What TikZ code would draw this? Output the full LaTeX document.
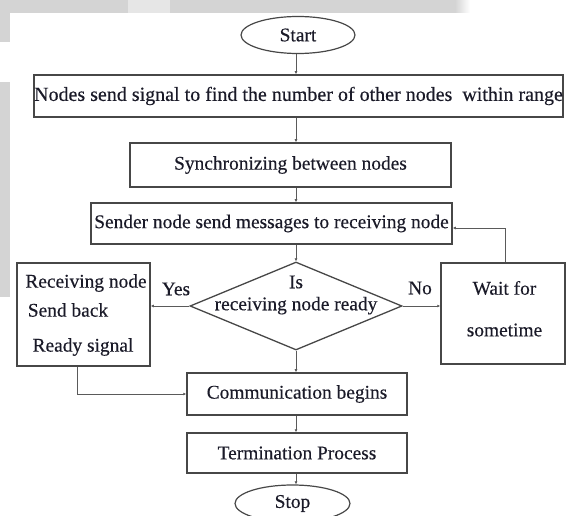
\documentclass[tikz,border=0pt]{standalone}
\usepackage{fontspec}
\setmainfont[FakeBold=0.3]{Liberation Serif}
\usetikzlibrary{shapes.geometric,arrows.meta}
\definecolor{boxc}{HTML}{474747}
\definecolor{linec}{HTML}{5A5A5A}
\definecolor{txt}{HTML}{1A1A28}
\definecolor{bg}{HTML}{D4D4D4}
\definecolor{bgl}{HTML}{E6E6E6}
\begin{document}
\begin{tikzpicture}[x=1pt,y=-1pt,
  every node/.style={font=\fontsize{19.4}{22}\selectfont, text=txt},
  box/.style={draw=boxc, line width=1.5pt, inner sep=0pt, rectangle},
  oval/.style={draw=boxc, line width=1.2pt, ellipse, inner sep=0pt, minimum width=114pt, minimum height=37pt},
  conn/.style={draw=linec, line width=0.9pt, -{Latex[length=3pt,width=3pt]}},
  lbl/.style={inner sep=0pt}]
\useasboundingbox (0,0) rectangle (566,516);
\fill[white] (0,0) rectangle (566,516);
% background remnants
\fill[bg] (0,0) rectangle (128,12.7);
\fill[bgl] (128,0) rectangle (170,12.7);
\fill[bg] (170,0) rectangle (455,12.7);
\shade[left color=bg, right color=white] (455,0) rectangle (470,12.7);
\fill[bg] (0,12.7) rectangle (10,42);
\fill[bg] (0,82) rectangle (10,297);

% nodes
\node[oval] (start) at (298,35) {Start};
\node[box, minimum width=525pt, minimum height=42pt, font=\fontsize{20}{22}\selectfont] (find) at (298.5,96) {Nodes send signal to find the number of other nodes\ \ within range};
\node[box, minimum width=321pt, minimum height=44pt] (sync) at (290.5,165) {Synchronizing between nodes};
\node[box, minimum width=361pt, minimum height=41pt] (send) at (271.5,223.5) {Sender node send messages to receiving node};
\node[draw=boxc, line width=1.3pt, diamond, minimum width=212pt, minimum height=88pt, inner sep=0pt] (dec) at (296,306) {};
\node[lbl, align=center] (dect) at (296,295) {Is\\receiving node ready};
\node[box, minimum width=133pt, minimum height=103pt] (rec) at (83.5,314.5) {};
\node[lbl] (rec1) at (86,283) {Receiving node};
\node[lbl] (rec2) at (68,310) {Send back};
\node[lbl] (rec3) at (83,347) {Ready signal};
\node[box, minimum width=124pt, minimum height=101pt] (wait) at (503,313.5) {};
\node[lbl] (wait1) at (504.5,288) {Wait for};
\node[lbl] (wait2) at (504.5,330) {sometime};
\node[box, minimum width=220pt, minimum height=42pt] (comm) at (297,394) {Communication begins};
\node[box, minimum width=220pt, minimum height=40pt] (term) at (297,453) {Termination Process};
\node[oval, minimum width=115pt] (stop) at (292.5,503.5) {Stop};
\node[lbl] (yes) at (176,289) {Yes};
\node[lbl] (no) at (420,288) {No};

% connectors
\coordinate (ax) at (296,0);
\coordinate (fb) at (505,228);
\coordinate (lb) at (77,394);
\draw[conn] (start.south -| ax) -- (find.north -| ax);
\draw[conn] (find.south -| ax) -- (sync.north -| ax);
\draw[conn] (sync.south -| ax) -- (send.north -| ax);
\draw[conn] (send.south -| ax) -- (dec.north);
\draw[conn] (dec.south) -- (comm.north -| dec.south);
\draw[conn] (comm.south -| dec.south) -- (term.north -| dec.south);
\draw[conn] (term.south -| dec.south) -- (stop.north -| dec.south);
\draw[conn] (dec.west) -- (rec.east |- dec.west);
\draw[conn] (dec.east) -- (wait.west |- dec.east);
\draw[conn] (wait.north -| fb) |- (send.east |- fb);
\draw[conn] (rec.south -| lb) |- (comm.west);
\end{tikzpicture}
\end{document}
